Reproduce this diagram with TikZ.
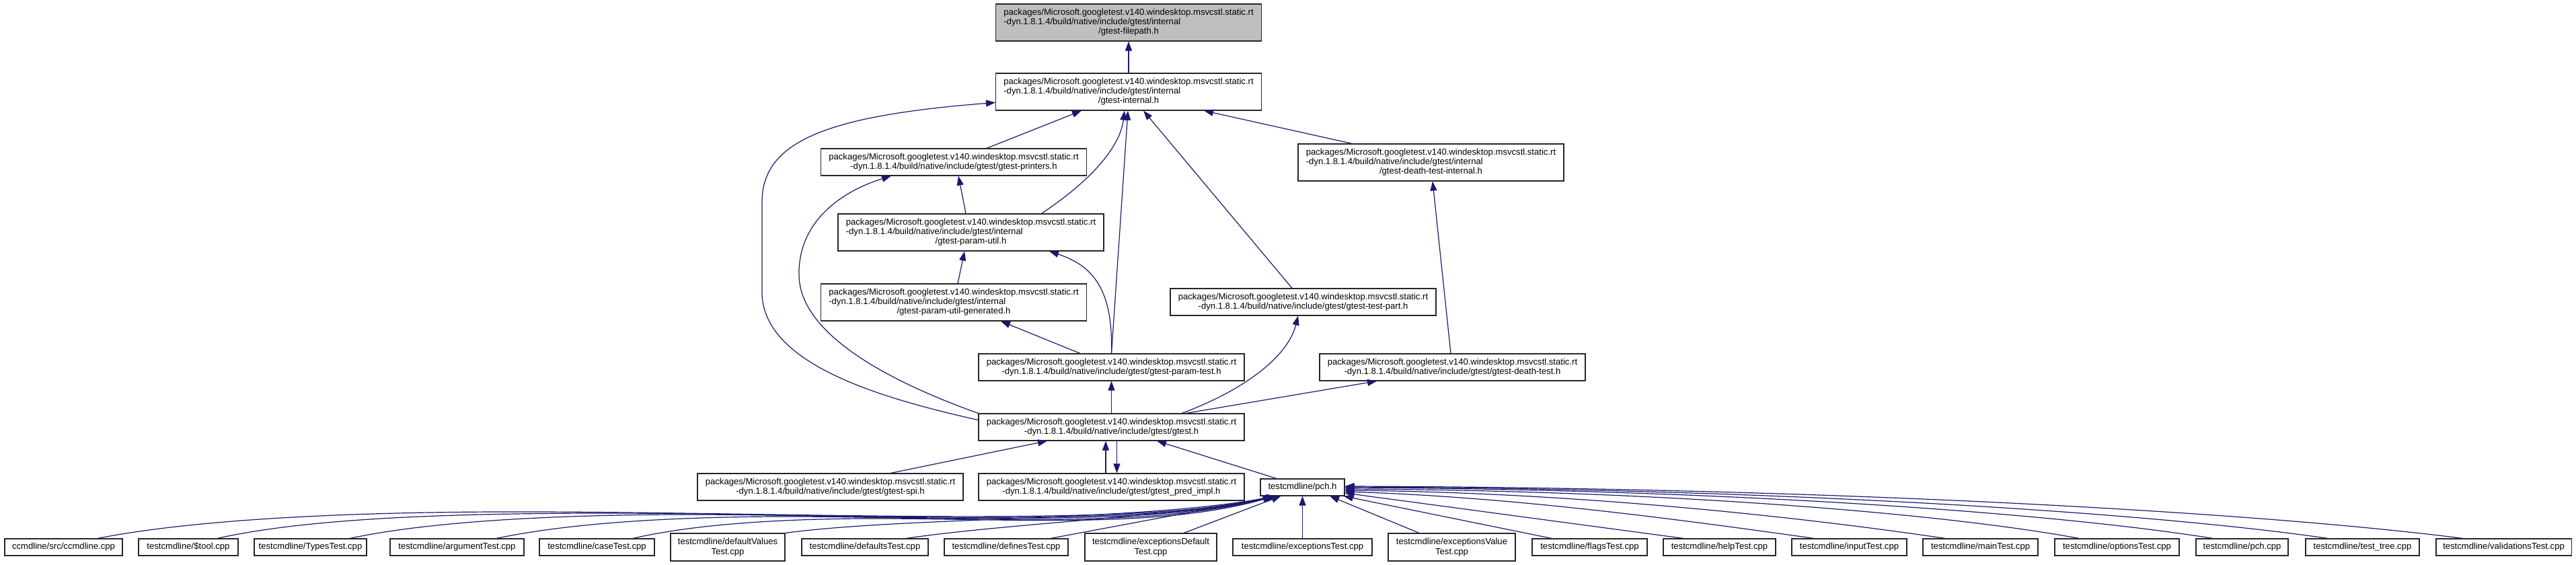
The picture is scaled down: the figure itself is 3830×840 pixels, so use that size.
\documentclass[tikz,border=0pt]{standalone}
\usepackage{fontspec}
\setmainfont{Liberation Sans}
\usetikzlibrary{arrows.meta,calc}
\definecolor{midnight}{RGB}{25,25,112}
\definecolor{rootgray}{RGB}{191,191,191}
\newcommand\pkgA{packages/Microsoft.googletest.v140.windesktop.msvcstl.static.rt}
\newcommand\pkgB{-dyn.1.8.1.4/build/native/include/gtest/}
\newcommand\threeline[1]{\begin{tabular}{@{}l@{}}\pkgA\\ \pkgB internal\\ \multicolumn{1}{@{}c@{}}{#1}\end{tabular}}
\newcommand\twoline[1]{\pkgA\\ \pkgB#1}
\begin{document}
\begin{tikzpicture}[x=1pt,y=-1pt,
  box/.style={draw=black!85,line width=1.1pt,fill=white,inner sep=0pt,align=center,
    font=\fontsize{13.1}{14.3}\selectfont},
  hthree/.style={box,minimum width=395pt,minimum height=55pt},
  htwo/.style={box,minimum width=395pt,minimum height=40pt},
  bone/.style={box,minimum height=25pt},
  btwo/.style={box,minimum height=41pt},
  dep/.style={draw=midnight,line width=1.2pt,-{Triangle[length=14pt,width=10pt]}}]
\fill[white] (0,0) rectangle (3830,840);
\useasboundingbox (0,0) rectangle (3830,840);

% upper nodes
\node[hthree,fill=rootgray] (filepath) at (1678,33.5) {\threeline{/gtest-filepath.h}};
\node[hthree] (internal) at (1678,136.5) {\threeline{/gtest-internal.h}};
\node[htwo] (printers) at (1418,241) {\twoline{gtest-printers.h}};
\node[hthree] (dti) at (2127.5,241.5) {\threeline{/gtest-death-test-internal.h}};
\node[hthree] (paramutil) at (1443.5,345.5) {\threeline{/gtest-param-util.h}};
\node[hthree] (paramgen) at (1418,449.5) {\threeline{/gtest-param-util-generated.h}};
\node[htwo] (testpart) at (1937.5,449) {\twoline{gtest-test-part.h}};
\node[htwo] (paramtest) at (1652.5,546) {\twoline{gtest-param-test.h}};
\node[htwo] (deathtest) at (2159.5,546) {\twoline{gtest-death-test.h}};
\node[htwo] (gtest) at (1652.5,635) {\twoline{gtest.h}};
\node[htwo] (spi) at (1234.5,724) {\twoline{gtest-spi.h}};
\node[htwo] (pred) at (1652.5,724) {\twoline{gtest\_pred\_impl.h}};
\node[bone,minimum width=125pt] (pch) at (1936.5,724.5) {testcmdline/pch.h};

% bottom row
\node[bone,minimum width=175pt] (ccmdline) at (94.5,813.5) {ccmdline/src/ccmdline.cpp};
\node[bone,minimum width=148pt] (tool) at (280,813.5) {testcmdline/\$tool.cpp};
\node[bone,minimum width=167pt] (types) at (461.5,813.5) {testcmdline/TypesTest.cpp};
\node[bone,minimum width=199pt] (argument) at (679.5,813.5) {testcmdline/argumentTest.cpp};
\node[bone,minimum width=171pt] (case) at (887.5,813.5) {testcmdline/caseTest.cpp};
\node[btwo,minimum width=170pt] (defval) at (1082,813.5) {testcmdline/defaultValues\\Test.cpp};
\node[bone,minimum width=188pt] (defaults) at (1286,813.5) {testcmdline/defaultsTest.cpp};
\node[bone,minimum width=184pt] (defines) at (1496,813.5) {testcmdline/definesTest.cpp};
\node[btwo,minimum width=196pt] (excdef) at (1711,813.5) {testcmdline/exceptionsDefault\\Test.cpp};
\node[bone,minimum width=207pt] (exctest) at (1936.5,813.5) {testcmdline/exceptionsTest.cpp};
\node[btwo,minimum width=189pt] (excval) at (2158.5,813.5) {testcmdline/exceptionsValue\\Test.cpp};
\node[bone,minimum width=171pt] (flags) at (2363.5,813.5) {testcmdline/flagsTest.cpp};
\node[bone,minimum width=167pt] (help) at (2556.5,813.5) {testcmdline/helpTest.cpp};
\node[bone,minimum width=171pt] (input) at (2749.5,813.5) {testcmdline/inputTest.cpp};
\node[bone,minimum width=171pt] (main) at (2944.5,813.5) {testcmdline/mainTest.cpp};
\node[bone,minimum width=185pt] (options) at (3147.5,813.5) {testcmdline/optionsTest.cpp};
\node[bone,minimum width=137pt] (pchcpp) at (3333.5,813.5) {testcmdline/pch.cpp};
\node[bone,minimum width=169pt] (testtree) at (3512.5,813.5) {testcmdline/test\_tree.cpp};
\node[bone,minimum width=201pt] (valid) at (3722.5,813.5) {testcmdline/validationsTest.cpp};

% upper edges
\draw[dep] (internal.north) -- (filepath.south);
\draw[dep] ($(printers.north)+(49,0)$) -- ($(internal.south)+(-70,0)$);
\draw[dep] ($(gtest.north west)+(0,10)$) .. controls (1300,590) and (1140,540) .. (1133,440)
  -- (1133,300) .. controls (1133,210) and (1230,172) .. ($(internal.west)+(0,16)$);
\draw[dep] (gtest.north west) .. controls (1330,570) and (1190,500) .. (1188,410)
  .. controls (1186,330) and (1250,285) .. ($(printers.south)+(-93,0)$);
\draw[dep] ($(paramutil.north)+(105,0)$) .. controls (1620,270) and (1665,220) .. ($(internal.south)+(-6,0)$);
\draw[dep] (paramtest.north) -- ($(internal.south)+(-1,0)$);
\draw[dep] ($(paramutil.north)+(-7.5,0)$) -- ($(printers.south)+(7,0)$);
\draw[dep] ($(paramgen.north)+(6,0)$) -- ($(paramutil.south)+(-9.5,0)$);
\draw[dep] (paramtest.north) .. controls (1655,430) and (1625,395) .. ($(paramutil.south)+(116.5,0)$);
\draw[dep] ($(paramtest.north)+(-46.5,0)$) -- ($(paramgen.south)+(70,0)$);
\draw[dep] ($(testpart.north)+(-16.5,0)$) -- ($(internal.south)+(22,0)$);
\draw[dep] ($(dti.north)+(-117.5,0)$) -- ($(internal.south)+(112,0)$);
\draw[dep] ($(deathtest.north)+(-2.5,0)$) -- ($(dti.south)+(2.5,0)$);
\draw[dep] (gtest.north) -- (paramtest.south);
\draw[dep] ($(gtest.north)+(104.5,0)$) .. controls (1850,580) and (1915,530) .. ($(testpart.south)+(-7.5,0)$);
\draw[dep] ($(gtest.north)+(110.5,0)$) -- ($(deathtest.south)+(-112.5,0)$);
\draw[dep] ($(spi.north)+(89.5,0)$) -- ($(gtest.south)+(-95.5,0)$);
\draw[dep] ($(pred.north)+(-8.5,0)$) -- ($(gtest.south)+(-8.5,0)$);
\draw[dep] ($(gtest.south)+(8,0)$) -- ($(pred.north)+(8,0)$);
\draw[dep] ($(pch.north)+(-38.5,0)$) -- ($(gtest.south)+(67.5,0)$);

% bottom edges, left group
\draw[dep] ($(ccmdline.north)+(50.5,0)$) .. controls (300,770) and (550,760) .. (800,761)
  .. controls (1200,762) and (1700,785) .. ($(pch.south west)+(18,0)$);
\draw[dep] ($(tool.north)+(43,0)$) .. controls (450,772) and (650,763) .. (900,763)
  .. controls (1250,763) and (1700,787) .. ($(pch.south west)+(19,0)$);
\draw[dep] ($(types.north)+(58.5,0)$) .. controls (640,775) and (820,766) .. (1000,765)
  .. controls (1300,764) and (1700,789) .. ($(pch.south west)+(20,0)$);
\draw[dep] ($(argument.north)+(58.5,0)$) .. controls (850,777) and (1000,769) .. (1150,768)
  .. controls (1400,767) and (1700,790) .. ($(pch.south west)+(21,0)$);
\draw[dep] ($(case.north)+(53.5,0)$) .. controls (1030,780) and (1150,772) .. (1280,771)
  .. controls (1500,770) and (1720,788) .. ($(pch.south west)+(22,0)$);
\draw[dep] (defval.north east) .. controls (1350,768) and (1700,775) .. ($(pch.south west)+(23,0)$);
\draw[dep] ($(defaults.north)+(61,0)$) .. controls (1500,778) and (1750,768) .. ($(pch.south west)+(24,0)$);
\draw[dep] ($(defines.north)+(66,0)$) -- ($(pch.south west)+(25,0)$);
\draw[dep] ($(excdef.north)+(49,0)$) -- ($(pch.south west)+(31,0)$);
\draw[dep] (exctest.north) -- (pch.south);
% right group
\draw[dep] ($(excval.north)+(-48.5,0)$) -- ($(pch.south)+(40.5,0)$);
\draw[dep] ($(flags.north)+(-56.5,0)$) -- ($(pch.south east)+(-2,0)$);
\draw[dep] ($(help.north)+(-53.5,0)$) -- ($(pch.east)+(0,8.5)$);
\draw[dep] ($(input.north)+(-52.5,0)$) .. controls (2502,773) and (2251,739) .. ($(pch.east)+(0,6.5)$);
\draw[dep] ($(main.north)+(-52.5,0)$) .. controls (2678,768.6) and (2339,732) .. ($(pch.east)+(0,4.5)$);
\draw[dep] ($(options.north)+(-56.5,0)$) .. controls (2884,762) and (2458,729) .. ($(pch.east)+(0,2.5)$);
\draw[dep] ($(pchcpp.north)+(-43.5,0)$) .. controls (3045,761) and (2542,727) .. ($(pch.east)+(0,0.5)$);
\draw[dep] ($(testtree.north)+(-51.5,0)$) .. controls (3183,760) and (2614,726) .. ($(pch.east)+(0,-0.5)$);
\draw[dep] ($(valid.north)+(-60.5,0)$) .. controls (3346,760) and (2698,725) .. ($(pch.east)+(0,-1.5)$);
\end{tikzpicture}
\end{document}
